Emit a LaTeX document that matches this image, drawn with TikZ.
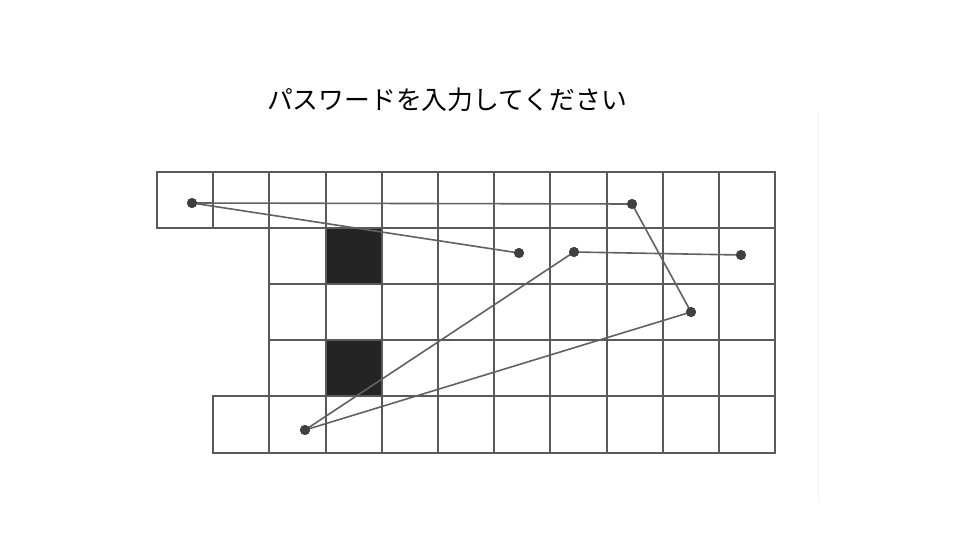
\documentclass[tikz,border=0pt]{standalone}
\usepackage{fontspec}
\newfontfamily\cjk{Noto Sans CJK JP}
\begin{document}
\begin{tikzpicture}[x=1pt,y=-1pt,
  gridline/.style={draw=black!65,line width=2pt,line cap=rect},
  conn/.style={draw=black!62,line width=1.6pt},
  dot/.style={circle,fill=black!75,inner sep=0pt,minimum size=10pt},
  blk/.style={fill=black!86}]
\useasboundingbox (0,0) rectangle (960,540);
\fill[white] (0,0) rectangle (960,540);
\draw[black!5,line width=1pt] (818,112) -- (818,503);
% title
\node[font=\cjk\fontsize{25.8}{30}\selectfont] (title) at (447,100) {パスワードを入力してください};
% black cells
\fill[blk] (325,228) rectangle (381,284);
\fill[blk] (325,340) rectangle (381,396);
% grid
\def\cw{56.2}
% horizontal lines
\draw[gridline] (157,172) -- (775,172);
\draw[gridline] (157,228) -- (775,228);
\draw[gridline] (269,284) -- (775,284);
\draw[gridline] (269,340) -- (775,340);
\draw[gridline] (213,396) -- (775,396);
\draw[gridline] (213,453) -- (775,453);
% vertical lines
\draw[gridline] (157,172) -- (157,228);
\draw[gridline] (213,172) -- (213,228);
\draw[gridline] (213,396) -- (213,453);
\foreach \i in {2,...,11} \draw[gridline] ({157+\i*\cw},172) -- ({157+\i*\cw},453);
% dots
\node[dot] (A) at (192,203) {};
\node[dot] (B) at (632,204) {};
\node[dot] (C) at (519,253) {};
\node[dot] (D) at (574,252) {};
\node[dot] (E) at (741,255) {};
\node[dot] (F) at (691,312) {};
\node[dot] (G) at (305,430) {};
% connectors
\draw[conn] (A.center) -- (C.center);
\draw[conn] (A.center) -- (B.center);
\draw[conn] (B.center) -- (F.center);
\draw[conn] (D.center) -- (E.center);
\draw[conn] (D.center) -- (G.center);
\draw[conn] (F.center) -- (G.center);
\foreach \n in {A,B,C,D,E,F,G} \fill[black!75] (\n) circle (5);
\end{tikzpicture}
\end{document}
